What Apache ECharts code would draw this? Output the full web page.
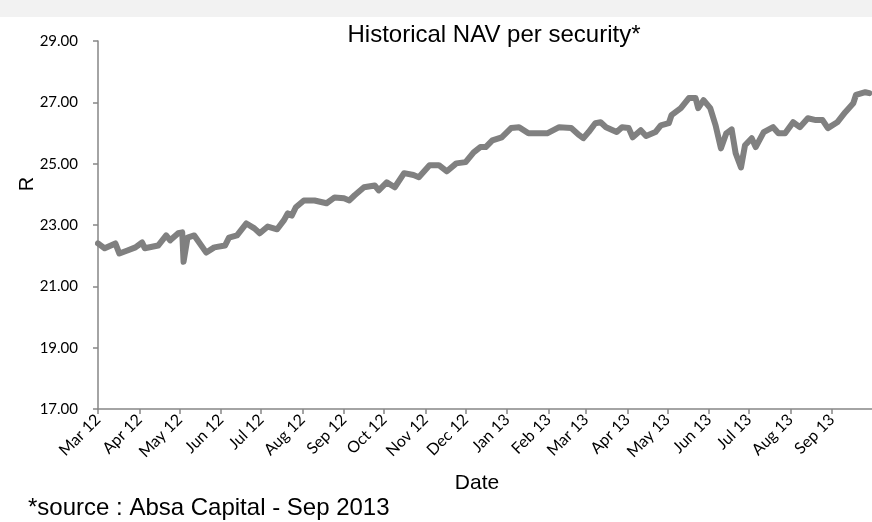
<!DOCTYPE html>
<html>
<head>
<meta charset="utf-8">
<script src="https://cdn.jsdelivr.net/npm/echarts@6/dist/echarts.min.js"></script>
<style>
  html, body { margin: 0; padding: 0; background: #fff; }
  #chart { width: 872px; height: 522px; }
</style>
</head>
<body>
<div id="chart"></div>
<script>
// month ticks on the date axis
const tickDates = ['2012-03-01', '2012-04-01', '2012-05-01', '2012-06-01', '2012-07-01', '2012-08-01',
  '2012-09-01', '2012-10-01', '2012-11-01', '2012-12-01', '2013-01-01', '2013-02-01', '2013-03-01',
  '2013-04-01', '2013-05-01', '2013-06-01', '2013-07-01', '2013-08-01', '2013-09-01'];
const tickLabels = ['Mar 12', 'Apr 12', 'May 12', 'Jun 12', 'Jul 12', 'Aug 12', 'Sep 12', 'Oct 12',
  'Nov 12', 'Dec 12', 'Jan 13', 'Feb 13', 'Mar 13', 'Apr 13', 'May 13', 'Jun 13', 'Jul 13', 'Aug 13', 'Sep 13'];

// NAV per security (R)
const navDates = [
  '2012-03-01', '2012-03-06', '2012-03-14', '2012-03-17', '2012-03-23', '2012-03-29', '2012-04-03', '2012-04-05',
  '2012-04-15', '2012-04-21', '2012-04-24', '2012-04-30', '2012-05-03', '2012-05-04', '2012-05-05', '2012-05-07',
  '2012-05-12', '2012-05-21', '2012-05-27', '2012-06-04', '2012-06-07', '2012-06-13', '2012-06-20', '2012-06-26',
  '2012-06-30', '2012-07-06', '2012-07-13', '2012-07-18', '2012-07-21', '2012-07-24', '2012-07-27', '2012-08-02',
  '2012-08-10', '2012-08-19', '2012-08-25', '2012-09-01', '2012-09-05', '2012-09-09', '2012-09-16', '2012-09-24',
  '2012-09-27', '2012-10-03', '2012-10-09', '2012-10-16', '2012-10-23', '2012-10-27', '2012-11-04', '2012-11-11',
  '2012-11-17', '2012-11-24', '2012-12-01', '2012-12-07', '2012-12-12', '2012-12-16', '2012-12-21', '2012-12-28',
  '2013-01-04', '2013-01-10', '2013-01-17', '2013-01-23', '2013-01-31', '2013-02-09', '2013-02-18', '2013-02-24',
  '2013-02-27', '2013-03-03', '2013-03-08', '2013-03-12', '2013-03-16', '2013-03-24', '2013-03-28', '2013-04-02',
  '2013-04-05', '2013-04-11', '2013-04-15', '2013-04-22', '2013-04-26', '2013-05-02', '2013-05-04', '2013-05-11',
  '2013-05-17', '2013-05-22', '2013-05-24', '2013-05-28', '2013-06-02', '2013-06-06', '2013-06-10', '2013-06-14',
  '2013-06-18', '2013-06-21', '2013-06-25', '2013-06-28', '2013-07-03', '2013-07-06', '2013-07-12', '2013-07-19',
  '2013-07-23', '2013-07-28', '2013-08-03', '2013-08-08', '2013-08-14', '2013-08-20', '2013-08-25', '2013-08-29',
  '2013-09-05', '2013-09-11', '2013-09-17', '2013-09-19', '2013-09-26', '2013-09-29'
];
const navValues = [
  22.40, 22.24, 22.40, 22.07, 22.17, 22.27, 22.43, 22.24,
  22.33, 22.66, 22.50, 22.73, 22.76, 21.80, 21.78, 22.59,
  22.66, 22.10, 22.27, 22.33, 22.59, 22.66, 23.05, 22.89,
  22.73, 22.95, 22.86, 23.15, 23.38, 23.31, 23.58, 23.80,
  23.80, 23.71, 23.90, 23.87, 23.80, 23.97, 24.23, 24.29,
  24.13, 24.39, 24.23, 24.69, 24.63, 24.56, 24.95, 24.95,
  24.75, 25.01, 25.05, 25.37, 25.54, 25.54, 25.76, 25.86,
  26.16, 26.19, 25.99, 25.99, 25.99, 26.19, 26.16, 25.93,
  25.83, 26.03, 26.32, 26.35, 26.19, 26.03, 26.19, 26.16,
  25.86, 26.09, 25.90, 26.03, 26.25, 26.32, 26.58, 26.81,
  27.14, 27.14, 26.81, 27.07, 26.81, 26.25, 25.50, 25.99,
  26.12, 25.34, 24.88, 25.60, 25.83, 25.54, 26.03, 26.19,
  25.99, 25.99, 26.35, 26.19, 26.48, 26.42, 26.42, 26.16,
  26.35, 26.68, 26.97, 27.24, 27.33, 27.30
];

// dates as UTC millisecond values so the value axis spaces them by day
const toMs = d => Date.parse(d + 'T00:00:00Z');
const tickTimes = tickDates.map(toMs);
const axisGray = '#868686';

const chart = echarts.init(document.getElementById('chart'));
chart.setOption({
  animation: false,
  backgroundColor: '#fff',
  grid: { left: 98, right: -2, top: 41, bottom: 113, containLabel: false },
  title: {
    text: 'Historical NAV per security*',
    left: 489,
    top: 18,
    textAlign: 'center',
    textStyle: { fontFamily: 'Liberation Sans, Arial', fontSize: 24, fontWeight: 'normal', color: '#000' }
  },
  graphic: [
    { type: 'rect', left: 0, top: 0, shape: { width: 872, height: 17 }, style: { fill: '#f2f2f2' }, silent: true },
    {
      type: 'text', x: 27, y: 184, rotation: Math.PI / 2,
      style: { text: 'R', font: '20px "Liberation Sans", Arial', fill: '#000', align: 'center', verticalAlign: 'middle' }
    },
    {
      type: 'text', x: 477, y: 483,
      style: { text: 'Date', font: '21px "Liberation Sans", Arial', fill: '#000', align: 'center', verticalAlign: 'middle' }
    },
    {
      type: 'text', x: 28, y: 508,
      style: { text: '*source : Absa Capital - Sep 2013', font: '24px "Liberation Sans", Arial', fill: '#000', align: 'left', verticalAlign: 'middle' }
    }
  ],
  xAxis: {
    type: 'value',
    min: toMs('2012-03-01'),
    max: toMs('2013-10-01'),
    axisLine: { lineStyle: { color: axisGray, width: 1.5 } },
    axisTick: { show: true, length: 5, customValues: tickTimes, lineStyle: { color: axisGray, width: 1.5 } },
    splitLine: { show: false },
    axisLabel: {
      customValues: tickTimes,
      rotate: 45,
      margin: 8,
      color: '#000',
      fontFamily: 'Lato',
      fontSize: 16,
      formatter: val => {
        const i = tickTimes.indexOf(val);
        return i >= 0 ? tickLabels[i] : '';
      }
    }
  },
  yAxis: {
    type: 'value',
    min: 17,
    max: 29,
    interval: 2,
    axisLine: { show: true, lineStyle: { color: axisGray, width: 1.5 } },
    axisTick: { show: true, length: 5, lineStyle: { color: axisGray, width: 1.5 } },
    splitLine: { show: false },
    axisLabel: {
      color: '#000',
      fontFamily: 'Lato',
      fontSize: 15,
      margin: 20,
      formatter: v => v.toFixed(2)
    }
  },
  series: [{
    type: 'line',
    data: navDates.map((d, i) => [toMs(d), navValues[i]]),
    showSymbol: false,
    symbol: 'none',
    lineStyle: { color: '#808080', width: 6, cap: 'round', join: 'round' }
  }]
});
</script>
</body>
</html>
